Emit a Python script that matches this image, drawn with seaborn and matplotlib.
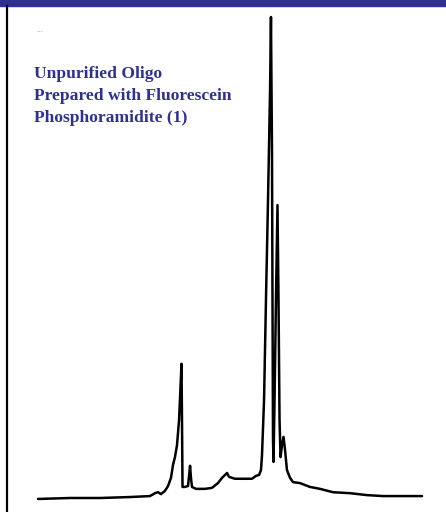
import seaborn as sns
import matplotlib.pyplot as plt
import pandas as pd

# HPLC trace: retention time (min) and relative absorbance
time = [0.00, 2.50, 4.84, 7.19, 8.75, 9.14, 9.38, 9.61, 9.92, 10.16,
        10.39, 10.55, 10.70, 10.86, 11.02, 11.09, 11.21, 11.25, 11.29, 11.48,
        11.72, 11.80, 11.88, 11.95, 12.03, 12.34, 13.05, 13.59, 14.06, 14.38,
        14.61, 14.77, 14.92, 15.39, 16.17, 16.72, 17.03, 17.27, 17.42, 17.50,
        17.66, 17.81, 17.97, 18.13, 18.20, 18.28, 18.32, 18.36, 18.40, 18.48,
        18.59, 18.71, 18.79, 18.87, 18.95, 19.06, 19.18, 19.30, 19.45, 19.69,
        19.92, 20.47, 21.25, 22.03, 23.05, 24.38, 25.70, 26.95, 28.28, 30.00]
signal = [-0.002, 0.000, 0.000, 0.002, 0.004, 0.010, 0.012, 0.008, 0.015, 0.025,
          0.042, 0.069, 0.085, 0.110, 0.162, 0.204, 0.279, 0.162, 0.023, 0.023,
          0.025, 0.046, 0.067, 0.042, 0.023, 0.019, 0.019, 0.021, 0.031, 0.042,
          0.048, 0.052, 0.044, 0.040, 0.040, 0.040, 0.046, 0.048, 0.058, 0.089,
          0.204, 0.412, 0.620, 0.848, 1.000, 0.723, 0.412, 0.121, 0.075, 0.204,
          0.412, 0.609, 0.412, 0.162, 0.085, 0.110, 0.127, 0.100, 0.058, 0.042,
          0.033, 0.031, 0.023, 0.019, 0.012, 0.010, 0.006, 0.004, 0.004, 0.004]

title_lines = ["Unpurified Oligo", "Prepared with Fluorescein", "Phosphoramidite (1)"]

df = pd.DataFrame({"time": time, "signal": signal})

navy = "#2E3192"
W, H = 446, 512
fig = plt.figure(figsize=(W / 100, H / 100), dpi=100)
fig.patch.set_facecolor("white")

# top band and left frame line
fig.patches.append(plt.Rectangle((0, 1 - 6 / H), 1, 6 / H, transform=fig.transFigure,
                                 color=navy, zorder=0))
fig.add_artist(plt.Line2D([7 / W, 7 / W], [0, 1 - 6 / H], transform=fig.transFigure,
                          color="black", lw=1.6))

ax = fig.add_axes([38 / W, 14 / H, 384 / W, 481 / H])
sns.lineplot(data=df, x="time", y="signal", ax=ax, color="black", lw=1.8,
             sort=False, estimator=None, clip_on=False,
             solid_joinstyle="round", solid_capstyle="round")
ax.set_xlim(0, 30)
ax.set_ylim(0, 1)
ax.axis("off")

# title
for i, line in enumerate(title_lines):
    fig.text(34 / W, 1 - (78 + 22 * i) / H, line, color=navy, fontsize=12.6,
             fontweight="bold", family="Liberation Serif", va="baseline", ha="left")
fig.text(37 / W, 1 - 33 / H, "---", color="#999999", fontsize=4.5, ha="left")

fig.savefig("out.png", dpi=100)
